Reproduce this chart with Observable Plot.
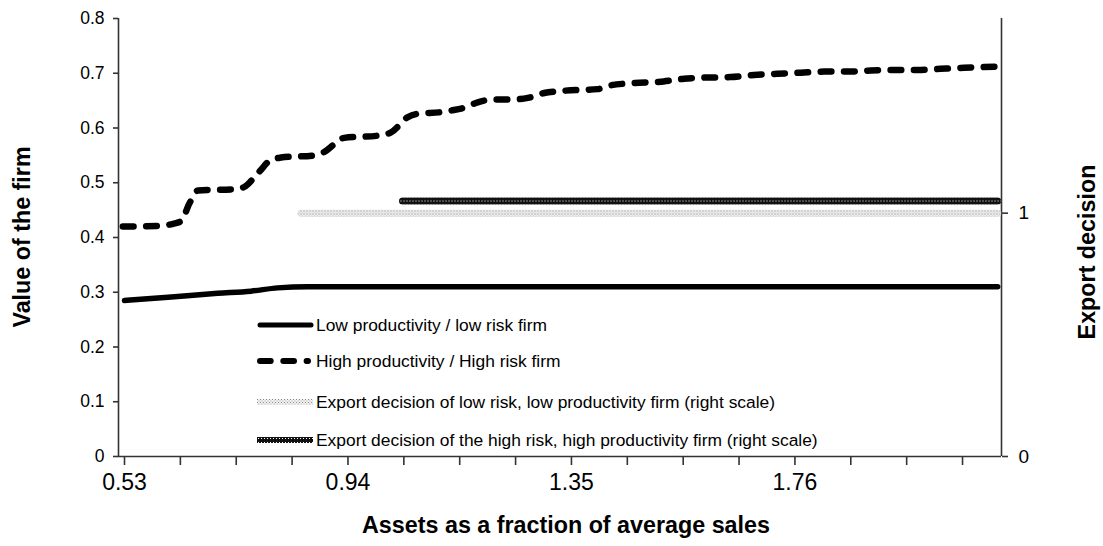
<!DOCTYPE html>
<html><head><meta charset="utf-8">
<script src="https://cdn.jsdelivr.net/npm/d3@7"></script>
<script src="https://cdn.jsdelivr.net/npm/@observablehq/plot@0.6"></script>
<style>
body{margin:0;background:#fff;}
#chart{position:relative;width:1103px;height:546px;font-family:"Liberation Sans",Arial,sans-serif;color:#000;overflow:hidden;}
.title{position:absolute;font-weight:bold;font-size:23.3px;white-space:nowrap;transform:translate(-50%,-50%);}
.rot{transform:translate(-50%,-50%) rotate(-90deg);}
.item{position:absolute;left:257px;display:flex;align-items:center;height:20px;transform:translateY(-50%);font-size:17.4px;white-space:nowrap;}
.item svg{margin-right:2px;}
</style></head><body>
<svg width="0" height="0" style="position:absolute">
  <defs>
    <pattern id="patHigh" patternUnits="userSpaceOnUse" width="3" height="4">
      <rect width="3" height="4" fill="#111"/>
      <rect x="1" y="0" width="1" height="1" fill="#fff"/>
    </pattern>
    <pattern id="patLow" patternUnits="userSpaceOnUse" width="3" height="3">
      <rect width="3" height="3" fill="#f2f2f2"/>
      <rect x="0" y="0" width="1" height="1" fill="#8a8a8a"/>
      <rect x="1.5" y="1.5" width="1" height="1" fill="#a8a8a8"/>
    </pattern>
  </defs>
</svg>
<div id="chart"></div>
<script>
// ---- data ----
const lowX  = [0.541, 0.621, 0.712, 0.773, 0.822, 0.877, 1.2, 1.6, 2.0, 2.143];
const lowY  = [0.285, 0.291, 0.298, 0.302, 0.308, 0.310, 0.310, 0.310, 0.310, 0.310];
const highX = [0.538, 0.600, 0.630, 0.645, 0.660, 0.676, 0.742, 0.760, 0.788, 0.810, 0.828, 0.889, 0.907, 0.944, 1.006, 1.030, 1.061, 1.079, 1.122, 1.140, 1.164, 1.189, 1.219, 1.250, 1.281, 1.311, 1.347, 1.409, 1.433, 1.475, 1.530, 1.567, 1.604, 1.653, 1.696, 1.739, 1.782, 1.825, 1.868, 1.910, 1.953, 1.996, 2.038, 2.081, 2.140];
const highY = [0.420, 0.421, 0.425, 0.430, 0.462, 0.486, 0.488, 0.492, 0.520, 0.542, 0.546, 0.550, 0.556, 0.582, 0.586, 0.592, 0.620, 0.626, 0.629, 0.632, 0.637, 0.647, 0.652, 0.652, 0.655, 0.664, 0.668, 0.671, 0.678, 0.682, 0.685, 0.690, 0.692, 0.693, 0.697, 0.699, 0.701, 0.703, 0.703, 0.705, 0.706, 0.706, 0.708, 0.710, 0.712];
const exportLowX  = [0.865, 2.143];
const exportLowV  = [1, 1];
const exportHighX = [1.051, 2.143];
const exportHighV = [1.05, 1.05];
const yLeftTicks  = [0, 0.1, 0.2, 0.3, 0.4, 0.5, 0.6, 0.7, 0.8];
const yLeftLabels = ["0", "0.1", "0.2", "0.3", "0.4", "0.5", "0.6", "0.7", "0.8"];
const yRightTicks  = [0, 1];
const yRightLabels = ["0", "1"];
const xTickLabels = ["0.53", "0.94", "1.35", "1.76"];
const xStart = 0.53, xStep = 0.1025, xEnd = 2.15;
const leftMax = 0.8, rightMax = 1.8;
const seriesNames = [
  "Low productivity / low risk firm",
  "High productivity / High risk firm",
  "Export decision of low risk, low productivity firm (right scale)",
  "Export decision of the high risk, high productivity firm (right scale)"
];
const titles = {x: "Assets as a fraction of average sales", yLeft: "Value of the firm", yRight: "Export decision"};

// ---- derived ----
const toLeft = r => r * leftMax / rightMax;
const low = lowX.map((x, i) => ({x, y: lowY[i]}));
const high = highX.map((x, i) => ({x, y: highY[i]}));
const expLow = exportLowX.map((x, i) => ({x, y: toLeft(exportLowV[i])}));
const expHigh = exportHighX.map((x, i) => ({x, y: toLeft(exportHighV[i])}));
const xTicks = d3.range(0, 16).map(i => +(xStart + i * xStep).toFixed(4));
const rightTickPos = yRightTicks.map(toLeft);
const axisColor = "#333";

const plot = Plot.plot({
  width: 1103, height: 546,
  marginLeft: 118, marginRight: 102, marginTop: 18, marginBottom: 90,
  style: {background: "transparent", fontFamily: "Liberation Sans, Arial, sans-serif", color: "#000", overflow: "visible"},
  x: {domain: [xStart, xEnd]},
  y: {domain: [0, leftMax]},
  marks: [
    Plot.ruleX([xStart], {y1: 0, y2: leftMax, stroke: axisColor, strokeWidth: 1.6}),
    Plot.ruleX([xEnd], {y1: 0, y2: leftMax, stroke: axisColor, strokeWidth: 1.6}),
    Plot.ruleY([0], {x1: xStart, x2: xEnd, stroke: axisColor, strokeWidth: 1.6}),
    Plot.axisY({anchor: "left", ticks: yLeftTicks, tickSize: 5, tickPadding: 9, stroke: axisColor, strokeWidth: 1.6,
      tickFormat: d => yLeftLabels[yLeftTicks.indexOf(d)], fontSize: 17.5, label: null}),
    Plot.axisY({anchor: "right", ticks: rightTickPos, tickSize: 6, tickPadding: 11, stroke: axisColor, strokeWidth: 1.6,
      tickFormat: d => yRightLabels[rightTickPos.indexOf(d)], fontSize: 19, label: null}),
    Plot.axisX({anchor: "bottom", ticks: xTicks, tickSize: 9, tickPadding: 8, stroke: axisColor, strokeWidth: 1.6,
      tickFormat: d => { const i = xTicks.indexOf(d); return i % 4 === 0 ? xTickLabels[i / 4] : ""; },
      fontSize: 23, dx: 6, label: null}),
    Plot.line(expLow, {x: "x", y: "y", stroke: "url(#patLow)", strokeWidth: 7}),
    Plot.line(expHigh, {x: "x", y: "y", stroke: "url(#patHigh)", strokeWidth: 7}),
    Plot.line(low, {x: "x", y: "y", stroke: "#000", strokeWidth: 5.5, curve: "monotone-x", strokeLinecap: "round"}),
    Plot.line(high, {x: "x", y: "y", stroke: "#000", strokeWidth: 6.5, curve: "monotone-x", strokeLinecap: "round", strokeDasharray: "10.7,12.6"})
  ]
});

const chart = document.getElementById("chart");
chart.appendChild(plot);

function addTitle(text, cx, cy, rotate) {
  const d = document.createElement("div");
  d.className = "title" + (rotate ? " rot" : "");
  d.style.left = cx + "px"; d.style.top = cy + "px";
  d.textContent = text;
  chart.appendChild(d);
}
addTitle(titles.yLeft, 22, 237, true);
addTitle(titles.yRight, 1087, 252, true);
addTitle(titles.x, 566, 525, false);

const swatches = [
  '<line x1="3" y1="6" x2="54" y2="6" stroke="#000" stroke-width="5" stroke-linecap="round"/>',
  '<line x1="3" y1="6" x2="51" y2="6" stroke="#000" stroke-width="6" stroke-linecap="round" stroke-dasharray="10.7,12.6"/>',
  '<line x1="0" y1="6" x2="56" y2="6" stroke="url(#patLow)" stroke-width="6"/>',
  '<line x1="0" y1="6" x2="56" y2="6" stroke="url(#patHigh)" stroke-width="6"/>'
];
const legendRowY = [325, 361, 402, 440];
seriesNames.forEach((name, i) => {
  const it = document.createElement("div");
  it.className = "item";
  it.style.top = legendRowY[i] + "px";
  it.innerHTML = `<svg width="57" height="12">${swatches[i]}</svg><span>${name}</span>`;
  chart.appendChild(it);
});
</script>
</body></html>
